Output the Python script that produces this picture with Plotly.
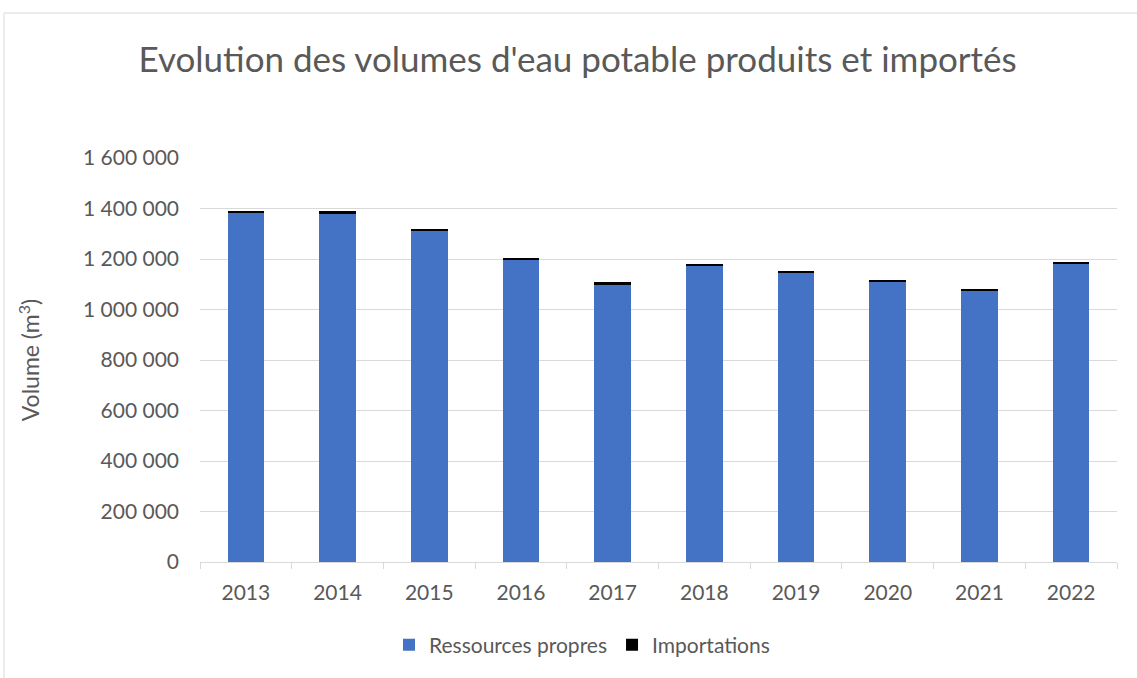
import plotly.graph_objects as go

years = ["2013", "2014", "2015", "2016", "2017", "2018", "2019", "2020", "2021", "2022"]
ressources_propres = [1385000, 1382000, 1312000, 1196000, 1100000, 1171000, 1144000, 1108000, 1072000, 1179000]
importations = [6000, 7000, 8000, 8000, 7000, 8000, 8000, 8000, 11000, 8000]
y_ticks = [0, 200000, 400000, 600000, 800000, 1000000, 1200000, 1400000, 1600000]

W, H = 1137, 678
ml, mr, mt, mb = 200, 20, 158, 116
pw, ph = W - ml - mr, H - mt - mb

fig = go.Figure()
fig.add_trace(go.Bar(x=years, y=ressources_propres, name="Ressources propres",
                     marker=dict(color="#4472C4", line=dict(width=0))))
fig.add_trace(go.Bar(x=years, y=importations, name="Importations",
                     marker=dict(color="#000000", line=dict(width=0))))

gray = "#595959"
fig.update_layout(
    width=W, height=H,
    barmode="stack", bargap=0.6,
    margin=dict(l=ml, r=mr, t=mt, b=mb),
    paper_bgcolor="white", plot_bgcolor="white",
    separators=", ",
    font=dict(family="Lato, Open Sans, sans-serif", color=gray, size=21),
    title=dict(text="Evolution des volumes d'eau potable produits et importés",
               x=0.508, xanchor="center", y=1 - 60 / H, yanchor="middle",
               font=dict(size=35, color=gray)),
    xaxis=dict(showgrid=False, showline=True, linecolor="#d9d9d9", linewidth=1,
               tickfont=dict(size=21, color=gray), ticks="outside", tickson="boundaries",
               ticklen=6, tickcolor="#d9d9d9", ticklabelstandoff=12),
    yaxis=dict(range=[0, 1600000], tickvals=y_ticks, tickformat=",.0f",
               showgrid=True, gridcolor="#d9d9d9", gridwidth=1, zeroline=False,
               tickfont=dict(size=21, color=gray), ticks="", ticklabelstandoff=20,
               title=dict(text="Volume (m<sup>3</sup>)", font=dict(size=23, color=gray), standoff=36)),
    legend=dict(orientation="h", x=(582 - ml) / pw, xanchor="center",
                y=(mt + ph - 645) / ph, yanchor="middle",
                font=dict(size=21, color=gray), traceorder="normal"),
    shapes=[dict(type="rect", xref="paper", yref="paper",
                 x0=(4 - ml) / pw, x1=(W + 5 - ml) / pw,
                 y0=(mt + ph - (H + 5)) / ph, y1=(mt + ph - 13) / ph,
                 line=dict(color="#d9d9d9", width=1), fillcolor="rgba(0,0,0,0)", layer="below")],
)

fig.write_html("out.html", config={"displayModeBar": False},
               post_script="document.body.style.margin='0';")
